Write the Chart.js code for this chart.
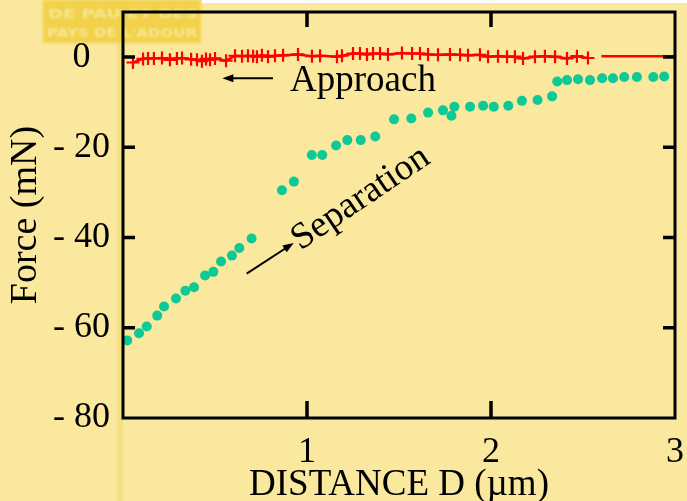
<!DOCTYPE html>
<html lang="en">
<head>
<meta charset="UTF-8">
<title>Force vs distance - approach / separation</title>
<script src="https://cdn.jsdelivr.net/npm/chart.js@4.4.1/dist/chart.umd.min.js"></script>
<style>
  html, body { margin: 0; padding: 0; background: #f9e89d; }
  #wrap { width: 687px; height: 501px; }
</style>
</head>
<body>
<div id="wrap"><canvas id="myChart" width="687" height="501"></canvas></div>
<script>
// approach curve (red + markers), distance in µm, force in mN
var approachX = [0.054, 0.109, 0.136, 0.168, 0.212, 0.255, 0.293, 0.321, 0.370, 0.402,
                 0.429, 0.451, 0.473, 0.500, 0.560, 0.609, 0.647, 0.679, 0.707, 0.728,
                 0.755, 0.788, 0.826, 0.870, 0.951, 1.027, 1.071, 1.163, 1.190, 1.250,
                 1.288, 1.326, 1.359, 1.397, 1.440, 1.516, 1.571, 1.614, 1.658, 1.712,
                 1.777, 1.832, 1.875, 1.940, 1.984, 2.038, 2.087, 2.130, 2.174, 2.239,
                 2.293, 2.348, 2.413, 2.467, 2.527];
var approachY = [-1.2, -0.4, -0.3, -0.3, -0.2, -0.6, -0.3, -0.2, -0.5, -0.6,
                 -0.9, -0.4, -0.6, -0.3, -0.8, 0.3, 0.2, 0.3, 0.2, 0.1,
                 0.4, 0.1, 0.3, 0.4, 0.6, 0.2, 0.3, 0.1, 0.3, 0.8,
                 0.8, 0.6, 0.8, 0.8, 0.6, 0.9, 0.8, 0.8, 0.6, 0.5,
                 0.6, 0.5, 0.4, 0.5, 0.1, 0.2, 0.1, 0.1, -0.3, 0.1,
                 0.2, 0.1, -0.3, 0.2, -0.2];
// plain red line after the last marker
var tailX = [2.60, 3.00];
var tailY = [0.2, 0.2];

// separation curve (green dots)
var separationX = [0.023, 0.087, 0.129, 0.186, 0.223, 0.288, 0.339, 0.386, 0.446, 0.491,
                   0.533, 0.592, 0.632, 0.699, 0.864, 0.929, 1.026, 1.083, 1.158, 1.219,
                   1.292, 1.371, 1.473, 1.567, 1.658, 1.739, 1.785, 1.801, 1.886, 1.957,
                   2.015, 2.094, 2.168, 2.253, 2.332, 2.360, 2.413, 2.473, 2.538, 2.604,
                   2.663, 2.724, 2.793, 2.882, 2.941];
var separationY = [-62.8, -61.2, -59.7, -57.3, -55.3, -53.5, -51.8, -51.0, -48.4, -47.6,
                   -45.3, -44.0, -42.3, -40.2, -29.5, -27.6, -21.7, -21.7, -19.6, -18.4,
                   -18.4, -17.6, -13.8, -13.6, -12.3, -11.8, -13.0, -11.0, -11.0, -10.8,
                   -11.0, -10.8, -9.7, -9.5, -8.7, -5.4, -5.1, -4.9, -5.1, -4.7,
                   -4.7, -4.4, -4.4, -4.4, -4.3];

var xTicks = [0, 1, 2, 3];
var yTicks = [0, -20, -40, -60, -80];
var xTitle = 'DISTANCE D (µm)';
var yTitle = 'Force (mN)';

var serif = 'Liberation Serif, Times New Roman, serif';

function pts(xs, ys) {
    return xs.map(function (x, i) { return { x: x, y: ys[i] }; });
}

function arrow(ctx, x1, y1, x2, y2) {
    var a = Math.atan2(y2 - y1, x2 - x1);
    ctx.beginPath();
    ctx.moveTo(x1, y1);
    ctx.lineTo(x2 - 6 * Math.cos(a), y2 - 6 * Math.sin(a));
    ctx.stroke();
    ctx.beginPath();
    ctx.moveTo(x2, y2);
    ctx.lineTo(x2 - 11 * Math.cos(a) + 4 * Math.sin(a), y2 - 11 * Math.sin(a) - 4 * Math.cos(a));
    ctx.lineTo(x2 - 11 * Math.cos(a) - 4 * Math.sin(a), y2 - 11 * Math.sin(a) + 4 * Math.cos(a));
    ctx.closePath();
    ctx.fill();
}

var paperPlugin = {
    id: 'paper',
    beforeDraw: function (chart) {
        var ctx = chart.ctx;
        ctx.save();
        ctx.fillStyle = '#f9e89d';
        ctx.fillRect(0, 0, chart.width, chart.height);
        // scanned page edge along the left axis
        ctx.fillStyle = 'rgba(235, 205, 80, 0.35)';
        ctx.fillRect(117, 0, 6, chart.height);
        // faded logo in the corner
        ctx.filter = 'blur(1.5px)';
        ctx.fillStyle = '#f1d24a';
        ctx.fillRect(43, 0, 158, 43);
        ctx.filter = 'blur(1.2px)';
        ctx.fillStyle = 'rgba(250, 236, 170, 0.75)';
        ctx.font = 'bold 13px "DejaVu Sans"';
        [['DE PAU ET DES', 48, 18], ["PAYS DE L'ADOUR", 47, 37]].forEach(function (t) {
            var w = ctx.measureText(t[0]).width;
            ctx.save();
            ctx.translate(t[1], t[2]);
            ctx.scale(150 / w, 1);
            ctx.fillText(t[0], 0, 0);
            ctx.restore();
        });
        ctx.filter = 'none';
        ctx.fillStyle = '#ffffff';
        ctx.fillRect(202, 0, 485, 3);
        ctx.restore();
    },
    afterDraw: function (chart) {
        var ctx = chart.ctx;
        var a = chart.chartArea;
        var xs = chart.scales.x, ys = chart.scales.y;
        ctx.save();
        ctx.strokeStyle = '#000';
        ctx.fillStyle = '#000';
        // frame
        ctx.lineWidth = 3;
        ctx.strokeRect(a.left, a.top, a.right - a.left, a.bottom - a.top);
        // inward tick marks
        ctx.lineWidth = 3.5;
        ctx.beginPath();
        yTicks.forEach(function (v) {
            if (v === ys.min || v === ys.max) return;
            var py = ys.getPixelForValue(v);
            ctx.moveTo(a.left, py); ctx.lineTo(a.left + 12, py);
            ctx.moveTo(a.right, py); ctx.lineTo(a.right - 12, py);
        });
        xTicks.forEach(function (v) {
            if (v === xs.min || v === xs.max) return;
            var px = xs.getPixelForValue(v);
            ctx.moveTo(px, a.bottom); ctx.lineTo(px, a.bottom - 17);
            ctx.moveTo(px, a.top); ctx.lineTo(px, a.top + 15);
        });
        ctx.stroke();
        // annotations
        ctx.font = '37px ' + serif;
        ctx.textBaseline = 'alphabetic';
        ctx.textAlign = 'left';
        ctx.fillText('Approach', xs.getPixelForValue(0.908), ys.getPixelForValue(-7.6));
        ctx.lineWidth = 2;
        arrow(ctx, xs.getPixelForValue(0.815), ys.getPixelForValue(-4.7),
                   xs.getPixelForValue(0.540), ys.getPixelForValue(-4.7));
        arrow(ctx, xs.getPixelForValue(0.672), ys.getPixelForValue(-48.0),
                   xs.getPixelForValue(0.928), ys.getPixelForValue(-41.2));
        ctx.save();
        ctx.translate(xs.getPixelForValue(0.965), ys.getPixelForValue(-42.9));
        ctx.rotate(-34 * Math.PI / 180);
        ctx.font = '37px ' + serif;
        ctx.fillText('Separation', 0, 0);
        ctx.restore();
        ctx.restore();
    }
};

new Chart(document.getElementById('myChart').getContext('2d'), {
    type: 'scatter',
    data: {
        datasets: [
            {
                label: 'Separation',
                data: pts(separationX, separationY),
                showLine: false,
                pointStyle: 'circle',
                pointRadius: 5,
                backgroundColor: '#0dc996',
                borderWidth: 0
            },
            {
                label: 'Approach',
                data: pts(approachX, approachY),
                showLine: true,
                borderColor: '#ff0000',
                borderWidth: 2.5,
                pointStyle: 'cross',
                pointRadius: 6.5,
                pointBorderColor: '#ff0000',
                pointBorderWidth: 2.2
            },
            {
                label: 'Approach (end)',
                data: pts(tailX, tailY),
                showLine: true,
                borderColor: '#ff0000',
                borderWidth: 2.5,
                pointRadius: 0
            }
        ]
    },
    options: {
        responsive: false,
        animation: false,
        layout: { padding: { top: 12, right: 12, left: 0, bottom: 0 } },
        plugins: { legend: { display: false }, tooltip: { enabled: false } },
        scales: {
            x: {
                type: 'linear',
                min: 0,
                max: 3,
                afterBuildTicks: function (s) { s.ticks = xTicks.map(function (v) { return { value: v }; }); },
                afterFit: function (s) { s.height = 83; s.paddingLeft = 0; s.paddingRight = 0; },
                grid: { display: false },
                border: { display: false },
                ticks: {
                    padding: 5,
                    maxRotation: 0,
                    autoSkip: false,
                    color: '#000',
                    font: { family: serif, size: 36 },
                    callback: function (v) { return v === 0 ? '' : String(v); }
                },
                title: {
                    display: true,
                    text: xTitle,
                    color: '#000',
                    font: { family: serif, size: 37, lineHeight: 1 },
                    padding: { top: 0, bottom: -3 }
                }
            },
            y: {
                type: 'linear',
                min: -80,
                max: 10,
                afterBuildTicks: function (s) { s.ticks = yTicks.map(function (v) { return { value: v }; }); },
                afterFit: function (s) { s.width = 123; s.paddingTop = 0; s.paddingBottom = 0; },
                grid: { display: false },
                border: { display: false },
                ticks: {
                    padding: 5,
                    crossAlign: 'center',
                    color: '#000',
                    font: { family: serif, size: 36 },
                    callback: function (v) { return v < 0 ? '- ' + (-v) : String(v); }
                },
                title: {
                    display: true,
                    text: yTitle,
                    color: '#000',
                    font: { family: serif, size: 38, lineHeight: 1 },
                    padding: { top: 7, bottom: 0 }
                }
            }
        }
    },
    plugins: [paperPlugin]
});
</script>
</body>
</html>
